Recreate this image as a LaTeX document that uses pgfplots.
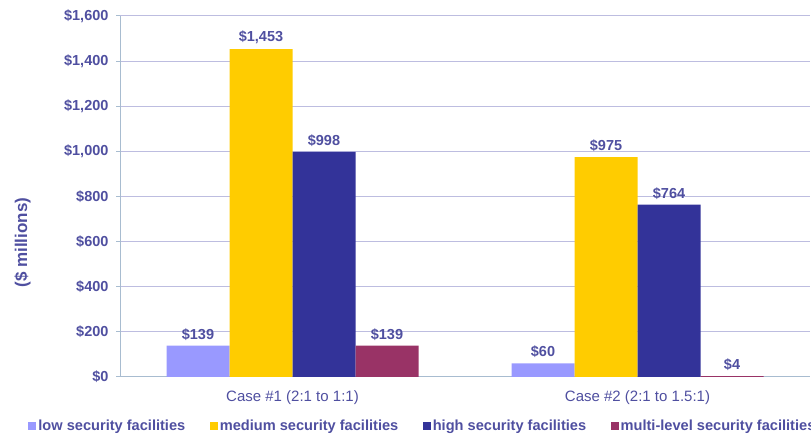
\documentclass[border=0pt]{standalone}
\usepackage{fontspec}
\setmainfont{Liberation Sans}
\usepackage{pgfplots}
\pgfplotsset{compat=1.18}
\definecolor{lowc}{HTML}{9999FF}
\definecolor{medc}{HTML}{FFCC00}
\definecolor{highc}{HTML}{333399}
\definecolor{multc}{HTML}{993366}
\definecolor{txt}{HTML}{4F4FA0}
\definecolor{axc}{HTML}{A8BCD0}
\definecolor{gridc}{HTML}{BDBDE0}
\begin{document}
\begin{tikzpicture}
\useasboundingbox (0pt,0pt) rectangle (811pt,436pt);
\begin{axis}[
  at={(120pt,59pt)}, anchor=south west,
  scale only axis, width=690pt, height=361pt,
  ybar=0pt, bar width=63pt,
  xmin=-0.5, xmax=1.5, ymin=0, ymax=1600,
  axis x line*=bottom, axis y line*=left,
  axis line style={axc, line width=1pt},
  xtick={0,1}, xticklabels={Case \#1 (2:1 to 1:1), Case \#2 (2:1 to 1.5:1)},
  extra x ticks={0.5,1.5}, extra x tick labels={},
  extra x tick style={major tick length=4pt, tick style={axc, line width=1pt}, tick pos=left, tick align=outside},
  x tick style={draw=none},
  xticklabel style={font=\fontsize{15}{17}\selectfont, text=txt, yshift=-6pt},
  ytick={0,200,...,1600},
  yticklabels={\$0,\$200,\$400,\$600,\$800,\$1{,}000,\$1{,}200,\$1{,}400,\$1{,}600},
  yticklabel style={font=\bfseries\fontsize{14.5}{16}\selectfont, text=txt, xshift=-4pt},
  y tick style={axc, line width=1pt}, tick align=outside, major tick length=4pt,
  ymajorgrids, grid style={gridc, line width=1pt},
  ylabel={(\$ millions)},
  ylabel style={font=\bfseries\fontsize{17}{19}\selectfont, text=txt, at={(axis description cs:-0.141,0.372)}, anchor=center, rotate=0},
  nodes near coords={\$\pgfmathprintnumber{\pgfplotspointmeta}},
  nodes near coords style={font=\bfseries\fontsize{14.5}{16}\selectfont, text=txt, /pgf/number format/1000 sep={,}, /pgf/number format/assume math mode=true, yshift=2pt},
  legend columns=4,
  legend style={at={(axis description cs:-0.133,-0.136)}, anchor=west, draw=none, fill=none,
    font=\bfseries\fontsize{14.6}{17}\selectfont, text=txt, column sep=0pt, inner sep=0pt},
  legend image code/.code={\fill[#1] (0pt,-4pt) rectangle (8pt,4pt);},
  /tikz/every even column/.append style={column sep=22.5pt},
]
\addplot[fill=lowc, draw=none] coordinates {(0,139) (1,60)};
\addplot[fill=medc, draw=none] coordinates {(0,1453) (1,975)};
\addplot[fill=highc, draw=none] coordinates {(0,998) (1,764)};
\addplot[fill=multc, draw=none] coordinates {(0,139) (1,4)};
\legend{low security facilities, medium security facilities, high security facilities, multi-level security facilities}
\end{axis}
\end{tikzpicture}
\end{document}
